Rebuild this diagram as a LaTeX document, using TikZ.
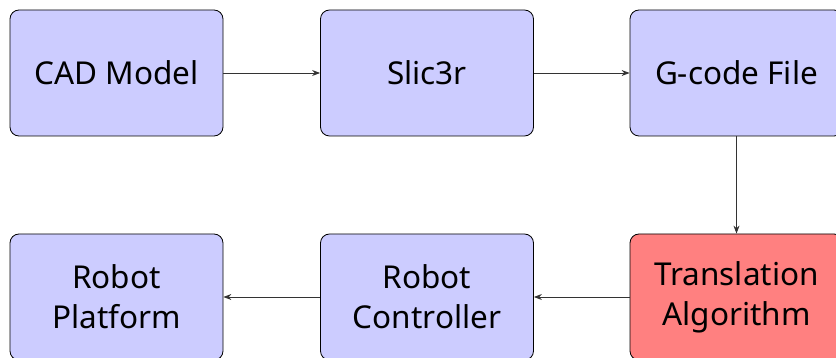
\documentclass[tikz,border=0pt]{standalone}
\usepackage{fontspec}
\setmainfont{Noto Sans}
\usetikzlibrary{arrows.meta}
\definecolor{boxblue}{HTML}{CCCCFF}
\definecolor{boxred}{HTML}{FF8080}
\begin{document}
\begin{tikzpicture}[x=1pt,y=1pt,
  blk/.style={draw=black, line width=0.8pt, rounded corners=9pt, minimum width=213pt, minimum height=126pt, align=center, font=\fontsize{31.5}{40}\selectfont, inner sep=0pt},
  conn/.style={draw=black!80, line width=0.9pt, -{Stealth[length=8pt,width=6pt]}}]
\useasboundingbox (0,0) rectangle (836,-358);
\node[blk, fill=boxblue] (cad) at (116.5,-73) {CAD Model};
\node[blk, fill=boxblue] (slic) at (427,-73) {Slic3r};
\node[blk, fill=boxblue] (gcode) at (736.5,-73) {G-code File};
\node[blk, fill=boxred] (trans) at (736.5,-297) {Translation\\Algorithm};
\node[blk, fill=boxblue] (ctrl) at (427,-297) {Robot\\Controller};
\node[blk, fill=boxblue] (plat) at (116.5,-297) {Robot\\Platform};
\draw[conn] (cad) -- (slic);
\draw[conn] (slic) -- (gcode);
\draw[conn] (gcode) -- (trans);
\draw[conn] (trans) -- (ctrl);
\draw[conn] (ctrl) -- (plat);
\end{tikzpicture}
\end{document}
